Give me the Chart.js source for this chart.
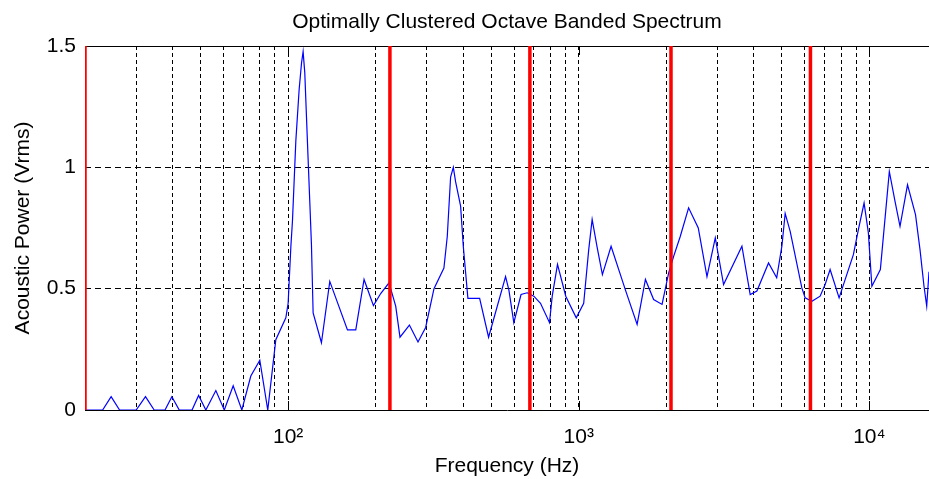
<!DOCTYPE html>
<html><head><meta charset="utf-8">
<script src="https://cdn.jsdelivr.net/npm/chart.js@4"></script>
<style>html,body{margin:0;padding:0;background:#fff;overflow:hidden}#wrap{width:929px;height:479px}</style>
</head><body><div id="wrap"><canvas id="c" width="929" height="479"></canvas></div>
<script>
const freqHz = [20, 23, 24.6, 26.3, 30, 32.3, 34.6, 37.7, 39.8, 42.2,
  46.7, 49.2, 52.1, 56.4, 60.3, 64.7, 69.3, 74.4, 79.9, 85.1,
  90.7, 98.2, 100, 102.2, 103.5, 106.3, 109.1, 111.2, 112.6, 114.1,
  117.1, 118.7, 120.3, 121.9, 130.2, 139.1, 160, 170.9, 182.5, 196.6,
  208.2, 222.4, 234.5, 242.6, 261.4, 279.8, 297.3, 317.6, 343.6, 352.9,
  362.3, 370.2, 377, 392.2, 400.6, 415.5, 456, 489.5, 560, 574.8,
  597.9, 633, 664.8, 700.5, 738.6, 793.2, 810.4, 845.1, 902.3, 980.4,
  1040, 1082, 1112, 1157, 1206, 1292, 1447, 1588, 1696, 1810,
  1935, 2039, 2121, 2236, 2388, 2578, 2762, 2950, 3150, 3643,
  3890, 4102, 4498, 4799, 5000, 5132, 5340, 5857, 6012, 6341,
  6770, 7043, 7327, 7868, 8810, 9167, 9590, 9922, 10200, 10910,
  11477, 11714, 12255, 12749, 13530, 14414, 14937, 15417, 15751, 16040];
const power = [0, 0, 0.055, 0, 0, 0.055, 0, 0, 0.055, 0,
  0, 0.06, 0, 0.08, 0, 0.1, 0, 0.14, 0.205, 0,
  0.29, 0.38, 0.44, 0.675, 0.78, 1.11, 1.32, 1.43, 1.477, 1.39,
  1.04, 0.86, 0.68, 0.4, 0.277, 0.53, 0.33, 0.33, 0.538, 0.43,
  0.48, 0.524, 0.428, 0.30, 0.35, 0.28, 0.34, 0.5, 0.585, 0.716,
  0.96, 1.0, 0.94, 0.84, 0.675, 0.46, 0.46, 0.30, 0.55, 0.495,
  0.36, 0.476, 0.483, 0.469, 0.44, 0.36, 0.469, 0.6, 0.469, 0.38,
  0.44, 0.66, 0.785, 0.67, 0.558, 0.675, 0.495, 0.353, 0.538, 0.455,
  0.435, 0.565, 0.633, 0.716, 0.833, 0.75, 0.55, 0.709, 0.517, 0.675,
  0.476, 0.49, 0.606, 0.545, 0.675, 0.81, 0.736, 0.503, 0.462, 0.448,
  0.469, 0.517, 0.579, 0.462, 0.64, 0.743, 0.853, 0.73, 0.51, 0.579,
  0.867, 0.983, 0.86, 0.757, 0.928, 0.805, 0.661, 0.51, 0.428, 0.57];
const bandEdgesHz = [20, 224, 679, 2077, 6270];
const xGridHz = [20, 30, 40, 50, 60, 70, 80, 90, 100, 200, 300, 400, 500, 600, 700, 800, 900,
  1000, 2000, 3000, 4000, 5000, 6000, 7000, 8000, 9000, 10000];
const xMajorHz = [100, 1000, 10000];
const xMajorLabels = ['10\u00B2', '10\u00B3', '10\u2074'];
const yTicks = [0, 0.5, 1, 1.5];
const yTickLabels = ['0', '0.5', '1', '1.5'];
const xRange = [20, 16040];

const FONT = 'Liberation Sans, Arial, sans-serif';

const boxPlugin = {
  id: 'box',
  beforeDatasetsDraw(chart) {
    const {ctx, chartArea: a, scales: {x}} = chart;
    ctx.save();
    ctx.strokeStyle = '#000';
    ctx.lineWidth = 1;
    ctx.setLineDash([]);
    ctx.beginPath();
    ctx.moveTo(a.left, a.top + 0.5);
    ctx.lineTo(a.right, a.top + 0.5);
    xMajorHz.forEach(v => {
      const px = Math.round(x.getPixelForValue(v)) + 0.5;
      ctx.moveTo(px, a.bottom); ctx.lineTo(px, a.bottom - 9);
      ctx.moveTo(px, a.top); ctx.lineTo(px, a.top + 9);
    });
    ctx.stroke();
    ctx.restore();
  }
};

const datasets = bandEdgesHz.map(f => ({
  data: [{x: f, y: 0}, {x: f, y: 1.5}],
  borderColor: '#ff0000', borderWidth: 3.5, pointRadius: 0, order: 0, clip: 0
}));
datasets.push({
  data: freqHz.map((f, i) => ({x: f, y: power[i]})),
  borderColor: '#0000ff', borderWidth: 1.2, pointRadius: 0, tension: 0, order: 1, clip: 0
});

new Chart(document.getElementById('c'), {
  type: 'line',
  data: {datasets},
  options: {
    responsive: false, animation: false, events: [],
    devicePixelRatio: 1,
    layout: {padding: 0},
    plugins: {
      legend: {display: false}, tooltip: {enabled: false},
      title: {display: true, text: 'Optimally Clustered Octave Banded Spectrum', fullSize: false,
        color: '#000', font: {family: FONT, size: 21, weight: 'normal'}, padding: {top: 9.5, bottom: 11.3}}
    },
    scales: {
      x: {
        type: 'logarithmic', min: xRange[0], max: xRange[1],
        afterBuildTicks: s => { s.ticks = xGridHz.map(v => ({value: v})); },
        afterFit: s => { s.height = 69; },
        ticks: {autoSkip: false, maxRotation: 0, padding: 15, color: '#000',
          font: {family: FONT, size: 21},
          callback: v => { const i = xMajorHz.indexOf(v); return i >= 0 ? xMajorLabels[i] : ''; }},
        grid: {drawTicks: false, lineWidth: 1,
          color: c => (c.tick && c.tick.value === xRange[0]) ? 'rgba(0,0,0,0)' : '#000'},
        border: {display: true, color: '#000', width: 1, dash: [4, 3]},
        title: {display: true, text: 'Frequency (Hz)', color: '#000', font: {family: FONT, size: 21}, padding: {top: 0, bottom: 0}}
      },
      y: {
        type: 'linear', min: 0, max: 1.5,
        afterBuildTicks: s => { s.ticks = yTicks.map(v => ({value: v})); },
        afterFit: s => { s.width = 85; },
        ticks: {padding: 9, color: '#000', font: {family: FONT, size: 21},
          callback: v => { const i = yTicks.indexOf(v); return i >= 0 ? yTickLabels[i] : ''; }},
        grid: {drawTicks: false, lineWidth: 1,
          color: c => (c.tick && (c.tick.value === 0 || c.tick.value === 1.5)) ? 'rgba(0,0,0,0)' : '#000'},
        border: {display: false, dash: [6, 4]},
        title: {display: true, text: 'Acoustic Power (Vrms)', color: '#000', font: {family: FONT, size: 21}, padding: {top: 10.5, bottom: 0}}
      }
    }
  },
  plugins: [boxPlugin]
});
</script></body></html>
